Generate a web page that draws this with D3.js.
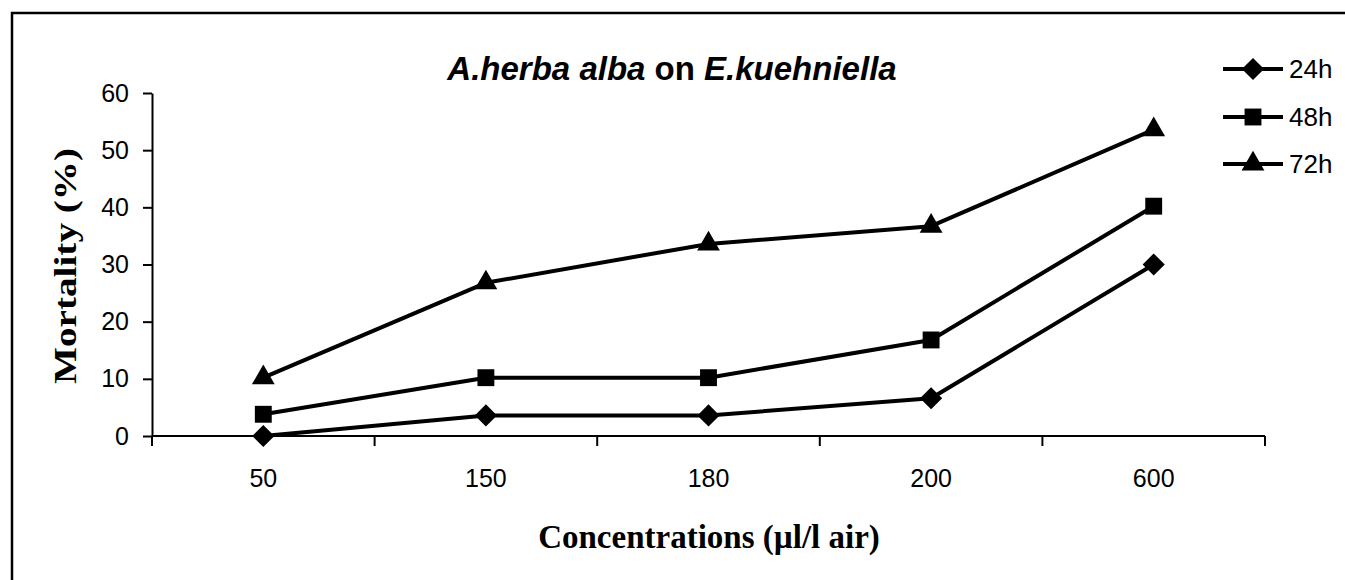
<!DOCTYPE html>
<html>
<head>
<meta charset="utf-8">
<script src="https://cdn.jsdelivr.net/npm/d3@7"></script>
<style>
  body { margin: 0; background: #fff; }
</style>
</head>
<body>
<div id="chart"></div>
<script>
const categories = ["50", "150", "180", "200", "600"];
const yTicks = [0, 10, 20, 30, 40, 50, 60];
const seriesNames = ["24h", "48h", "72h"];
const values24h = [0, 3.6, 3.6, 6.6, 30];
const values48h = [3.8, 10.2, 10.2, 16.8, 40.2];
const values72h = [10.2, 26.8, 33.6, 36.7, 53.6];

const series = [
    { name: seriesNames[0], values: values24h, symbol: "diamond" },
    { name: seriesNames[1], values: values48h, symbol: "square" },
    { name: seriesNames[2], values: values72h, symbol: "triangle" }
];

const W = 1345, H = 580;
const plot = { left: 152, right: 1265, top: 93, bottom: 436 };
const sans = "'Liberation Sans', Arial, sans-serif";
const serif = "'Liberation Serif', 'Times New Roman', serif";

const svg = d3.select("#chart").append("svg")
    .attr("width", W)
    .attr("height", H);

svg.append("rect").attr("width", W).attr("height", H).attr("fill", "#fff");

// outer frame (right/bottom edges fall outside the picture)
svg.append("rect")
    .attr("x", 12).attr("y", 13)
    .attr("width", W + 20).attr("height", H + 20)
    .attr("fill", "none").attr("stroke", "#000").attr("stroke-width", 2.5);

const x = d3.scaleBand().domain(categories).range([plot.left, plot.right]);
const y = d3.scaleLinear().domain([0, 60]).range([plot.bottom, plot.top]);

const symbolPath = (type) => {
    if (type === "diamond") return d3.symbol(d3.symbolSquare, 245)();
    if (type === "square") return d3.symbol(d3.symbolSquare, 285)();
    return d3.symbol(d3.symbolTriangle, 225)();
};
const symbolRotate = (type) => type === "diamond" ? " rotate(45)" : "";

// y axis
const yAxis = svg.append("g")
    .attr("transform", `translate(${plot.left},0)`)
    .call(d3.axisLeft(y).tickValues(yTicks).tickSize(9).tickPadding(14).tickSizeOuter(0));
yAxis.select(".domain").attr("stroke", "#000").attr("stroke-width", 2);
yAxis.selectAll(".tick line").attr("stroke", "#000").attr("stroke-width", 2);
yAxis.selectAll(".tick text")
    .attr("font-family", sans).attr("font-size", 25).attr("fill", "#000");

// x axis: ticks on the band edges, labels at band centres
const xAxis = svg.append("g")
    .attr("transform", `translate(0,${plot.bottom})`);
xAxis.append("line")
    .attr("x1", plot.left).attr("x2", plot.right)
    .attr("stroke", "#000").attr("stroke-width", 2);
const edges = categories.map(c => x(c)).concat([x(categories[categories.length - 1]) + x.bandwidth()]);
xAxis.selectAll(".xtick").data(edges).join("line")
    .attr("class", "xtick")
    .attr("x1", d => d).attr("x2", d => d)
    .attr("y1", 0).attr("y2", 10)
    .attr("stroke", "#000").attr("stroke-width", 2);
xAxis.selectAll(".xlabel").data(categories).join("text")
    .attr("class", "xlabel")
    .attr("x", d => x(d) + x.bandwidth() / 2)
    .attr("y", 51)
    .attr("text-anchor", "middle")
    .attr("font-family", sans).attr("font-size", 25)
    .text(d => d);

// lines and markers
const line = d3.line()
    .x((d, i) => x(categories[i]) + x.bandwidth() / 2)
    .y(d => y(d));

series.forEach(s => {
    svg.append("path")
        .datum(s.values)
        .attr("d", line)
        .attr("fill", "none")
        .attr("stroke", "#000")
        .attr("stroke-width", 4)
        .attr("stroke-linejoin", "round");

    svg.selectAll(null).data(s.values).join("path")
        .attr("d", symbolPath(s.symbol))
        .attr("transform", (d, i) =>
            `translate(${x(categories[i]) + x.bandwidth() / 2},${y(d)})${symbolRotate(s.symbol)}`)
        .attr("fill", "#000");
});

// title
const title = svg.append("text")
    .attr("x", 672).attr("y", 80)
    .attr("text-anchor", "middle")
    .attr("font-family", sans).attr("font-size", 33).attr("font-weight", "bold");
title.append("tspan").attr("font-style", "italic").text("A.herba alba");
title.append("tspan").text(" on ");
title.append("tspan").attr("font-style", "italic").text("E.kuehniella");

// axis titles
svg.append("text")
    .attr("x", 709).attr("y", 548)
    .attr("text-anchor", "middle")
    .attr("font-family", serif).attr("font-size", 33).attr("font-weight", "bold")
    .text("Concentrations (µl/l air)");

svg.append("text")
    .attr("transform", `translate(76,266) rotate(-90)`)
    .attr("text-anchor", "middle")
    .attr("font-family", serif).attr("font-size", 32).attr("font-weight", "bold")
    .attr("textLength", 236).attr("lengthAdjust", "spacingAndGlyphs")
    .text("Mortality (%)");

// legend
const legendRows = [69, 117, 164];
const legend = svg.append("g");
series.forEach((s, i) => {
    const g = legend.append("g").attr("transform", `translate(1223,${legendRows[i]})`);
    g.append("line").attr("x1", 0).attr("x2", 60)
        .attr("stroke", "#000").attr("stroke-width", 4);
    g.append("path")
        .attr("d", symbolPath(s.symbol))
        .attr("transform", `translate(30,0)${symbolRotate(s.symbol)}`)
        .attr("fill", "#000");
    g.append("text")
        .attr("x", 66).attr("y", 0).attr("dy", "0.35em")
        .attr("font-family", sans).attr("font-size", 26)
        .text(s.name);
});
</script>
</body>
</html>
